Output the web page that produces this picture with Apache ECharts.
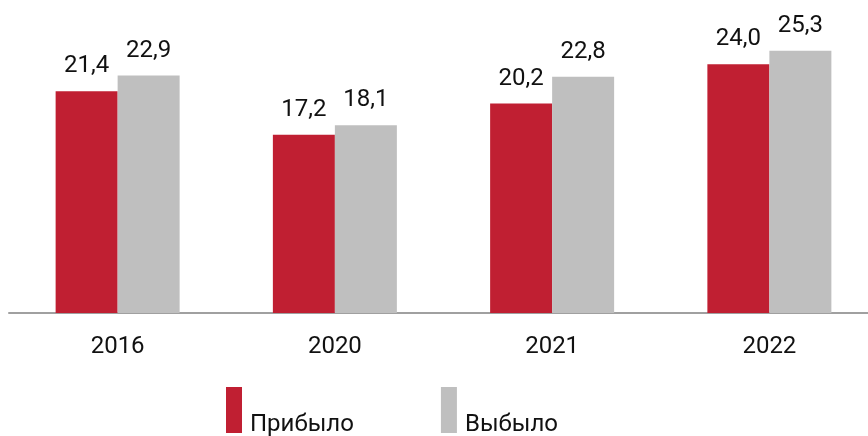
<!DOCTYPE html>
<html>
<head>
<meta charset="utf-8">
<script src="https://cdn.jsdelivr.net/npm/echarts@6/dist/echarts.min.js"></script>
<style>
html, body { margin: 0; padding: 0; background: #fff; }
#chart { width: 868px; height: 436px; }
</style>
</head>
<body>
<div id="chart"></div>
<script>
// данные
let years = ['2016', '2020', '2021', '2022']
let arrived = [21.4, 17.2, 20.2, 24.0]
let departed = [22.9, 18.1, 22.8, 25.3]
let seriesNames = ['Прибыло', 'Выбыло']

let fontFamily = 'Roboto, "Noto Sans", sans-serif'
let myChart = echarts.init(document.getElementById('chart'))

let label = {
    show: true,
    position: 'top',
    distance: 13,
    color: '#111',
    fontSize: 24,
    fontFamily: fontFamily,
    formatter: function(p) {
        return p.value.toFixed(1).replace('.', ',')
    }
}

myChart.setOption({
    animation: false,
    grid: {
        left: 9,
        top: 2,
        width: 869,
        height: 311,
        outerBoundsMode: 'none'
    },
    legend: {
        left: 226,
        top: 387,
        padding: 0,
        itemWidth: 16,
        itemHeight: 46,
        itemGap: 87,
        icon: 'rect',
        data: seriesNames,
        formatter: '{t|{name}}',
        textStyle: {
            fontSize: 24,
            fontFamily: fontFamily,
            color: '#111',
            rich: {
                t: {
                    fontSize: 24,
                    fontFamily: fontFamily,
                    color: '#111',
                    padding: [30, 0, 0, 3]
                }
            }
        }
    },
    xAxis: {
        type: 'category',
        data: years,
        axisTick: { show: false },
        axisLine: { lineStyle: { color: '#a0a0a0', width: 2 } },
        axisLabel: {
            margin: 22,
            fontSize: 24,
            color: '#111',
            fontFamily: fontFamily
        }
    },
    yAxis: {
        type: 'value',
        min: 0,
        max: 30,
        show: false,
        splitLine: { show: false }
    },
    series: [{
        name: seriesNames[0],
        type: 'bar',
        data: arrived,
        barWidth: 62,
        barGap: '0%',
        itemStyle: { color: '#c01f32' },
        label: label
    }, {
        name: seriesNames[1],
        type: 'bar',
        data: departed,
        barWidth: 62,
        barGap: '0%',
        itemStyle: { color: '#bfbfbf' },
        label: label
    }]
})
</script>
</body>
</html>
